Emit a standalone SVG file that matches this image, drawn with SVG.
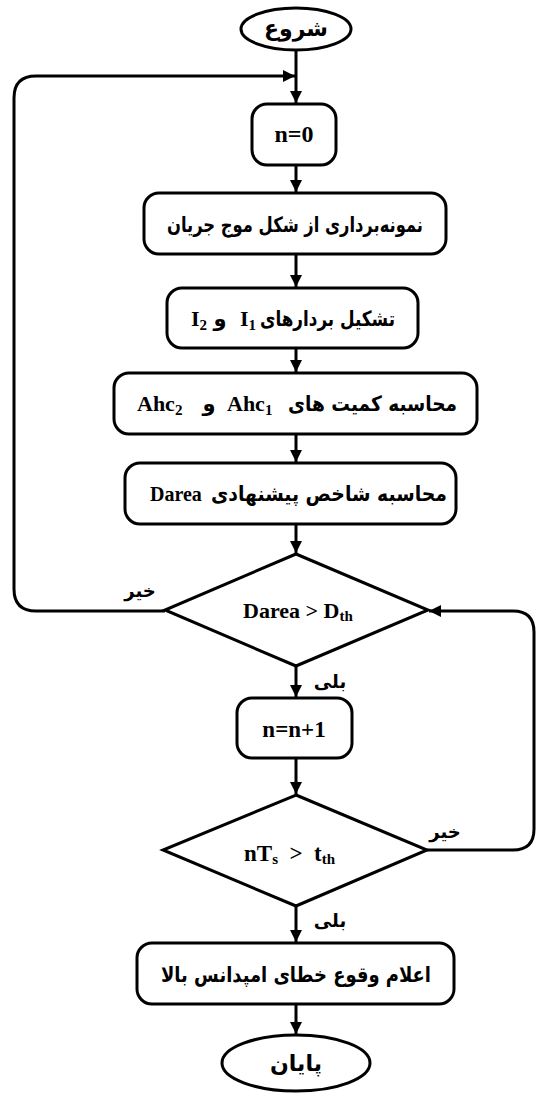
<svg xmlns="http://www.w3.org/2000/svg" width="536" height="1093" viewBox="0 0 536 1093">
<style>
.shape{fill:#fff;stroke:#000;stroke-width:3}
.conn{fill:none;stroke:#000;stroke-width:3}
.fa{font-family:"DejaVu Sans",sans-serif;font-weight:bold;font-size:21px;fill:#000}
.lat{font-family:"Liberation Serif",serif;font-weight:bold;font-size:22px;fill:#000}
.sub{font-size:15px}
.lbl{font-family:"DejaVu Sans",sans-serif;font-weight:bold;font-size:18px;fill:#000}
</style>
<defs>
<marker id="ah" markerUnits="userSpaceOnUse" markerWidth="14" markerHeight="14" refX="12" refY="6" orient="auto">
<path d="M0,0 L12,6 L0,12 Z" fill="#000"/>
</marker>
</defs>
<rect width="536" height="1093" fill="#fff"/>
<g id="connectors">
<path class="conn" d="M296,50 V103" marker-end="url(#ah)"/>
<path class="conn" d="M165,611 H36 Q14,611 14,589 V98 Q14,76 36,76 H295" marker-end="url(#ah)"/>
<path class="conn" d="M296,165 V192" marker-end="url(#ah)"/>
<path class="conn" d="M296,254 V287" marker-end="url(#ah)"/>
<path class="conn" d="M296,348 V372" marker-end="url(#ah)"/>
<path class="conn" d="M296,434 V462" marker-end="url(#ah)"/>
<path class="conn" d="M296,524 V553" marker-end="url(#ah)"/>
<path class="conn" d="M296,666 V697" marker-end="url(#ah)"/>
<path class="conn" d="M296,758 V794" marker-end="url(#ah)"/>
<path class="conn" d="M427,850 H513 Q534,850 534,829 V632 Q534,611 513,611 H429" marker-end="url(#ah)"/>
<path class="conn" d="M296,906 V942" marker-end="url(#ah)"/>
<path class="conn" d="M296,1004 V1034" marker-end="url(#ah)"/>
<text class="lbl" x="140" y="597" text-anchor="middle">خیر</text>
<text class="lbl" x="330" y="688" text-anchor="middle">بلی</text>
<text class="lbl" x="445" y="838" text-anchor="middle">خیر</text>
<text class="lbl" x="330" y="927" text-anchor="middle">بلی</text>
</g>
<g id="start">
<ellipse class="shape" cx="296" cy="29" rx="55" ry="21"/>
<text class="fa" x="296" y="36" text-anchor="middle" style="font-size:22px">شروع</text>
</g>
<g id="n0">
<rect class="shape" x="252" y="104" width="84" height="61" rx="15"/>
<text class="lat" x="294" y="142" text-anchor="middle" style="font-size:24px">n=0</text>
</g>
<g id="sampling">
<rect class="shape" x="144" y="193" width="302" height="61" rx="15"/>
<text class="fa" x="295" y="232" text-anchor="middle" textLength="256" lengthAdjust="spacingAndGlyphs">نمونه‌برداری از شکل موج جریان</text>
</g>
<g id="vectors">
<rect class="shape" x="167" y="288" width="251" height="60" rx="15"/>
<text class="fa" x="395" y="326" text-anchor="end" textLength="135" lengthAdjust="spacingAndGlyphs">تشکیل بردارهای</text>
<text class="lat" x="240" y="326">I<tspan class="sub" dy="4">1</tspan></text>
<text class="fa" x="220" y="326" text-anchor="middle">و</text>
<text class="lat" x="191" y="326">I<tspan class="sub" dy="4">2</tspan></text>
</g>
<g id="ahc">
<rect class="shape" x="114" y="373" width="363" height="61" rx="15"/>
<text class="fa" x="457" y="411" text-anchor="end" textLength="169" lengthAdjust="spacingAndGlyphs">محاسبه کمیت های</text>
<text class="lat" x="227" y="411">Ahc<tspan class="sub" dy="4">1</tspan></text>
<text class="fa" x="209" y="411" text-anchor="middle">و</text>
<text class="lat" x="137" y="411">Ahc<tspan class="sub" dy="4">2</tspan></text>
</g>
<g id="darea">
<rect class="shape" x="125" y="463" width="331" height="61" rx="15"/>
<text class="fa" x="447" y="501" text-anchor="end" textLength="236" lengthAdjust="spacingAndGlyphs">محاسبه شاخص پیشنهادی</text>
<text class="lat" x="150" y="501" style="font-size:20px">Darea</text>
</g>
<g id="decision1">
<polygon class="shape" points="296,554 428,610 296,666 165,610"/>
<text class="lat" x="243" y="618">Darea &gt; D<tspan class="sub" dy="3">th</tspan></text>
</g>
<g id="increment">
<rect class="shape" x="237" y="698" width="115" height="60" rx="15"/>
<text class="lat" x="294" y="737" text-anchor="middle" style="font-size:23px">n=n+1</text>
</g>
<g id="decision2">
<polygon class="shape" points="296,795 427,850 296,906 163,850"/>
<text class="lat" x="244" y="861" style="font-size:23px">nT<tspan class="sub" dy="3">s</tspan><tspan dy="-3" xml:space="preserve">  &gt;  </tspan>t<tspan class="sub" dy="3">th</tspan></text>
</g>
<g id="alarm">
<rect class="shape" x="137" y="943" width="317" height="61" rx="15"/>
<text class="fa" x="296" y="982" text-anchor="middle" textLength="270" lengthAdjust="spacingAndGlyphs">اعلام وقوع خطای امپدانس بالا</text>
</g>
<g id="end">
<ellipse class="shape" cx="296" cy="1063" rx="74" ry="28"/>
<text class="fa" x="296" y="1071" text-anchor="middle" style="font-size:22px">پایان</text>
</g>
</svg>
